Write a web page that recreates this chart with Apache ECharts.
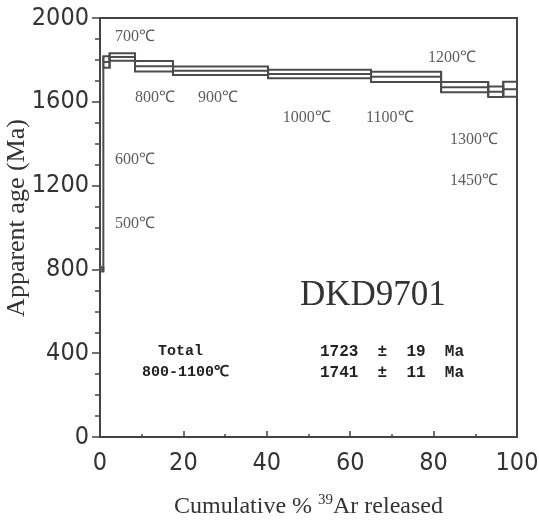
<!DOCTYPE html>
<html>
<head>
<meta charset="utf-8">
<script src="https://cdn.jsdelivr.net/npm/echarts@6/dist/echarts.min.js"></script>
<style>
html,body{margin:0;padding:0;background:#fff;}
#chart{width:539px;height:524px;}
</style>
</head>
<body>
<div id="chart"></div>
<script>
// ---- data ----
const temps = ['500℃','600℃','700℃','800℃','900℃','1000℃','1100℃','1200℃','1300℃','1450℃'];
const pctStart = [0, 0.8, 2.3, 8.4, 17.5, 40.3, 65.0, 81.8, 93.1, 96.7];
const pctEnd   = [0.8, 2.3, 8.4, 17.5, 40.3, 65.0, 81.8, 93.1, 96.7, 100];
const ages     = [800, 1790, 1814, 1770, 1748, 1733, 1719, 1670, 1648, 1660];
const errs     = [10, 28, 18, 25, 20, 20, 24, 24, 25, 36];
const xTicks = [0, 20, 40, 60, 80, 100];
const yTicks = [0, 400, 800, 1200, 1600, 2000];
const yTitle = 'Apparent age (Ma)';
const sampleName = 'DKD9701';
const summaryLabels = ['Total', '800-1100℃'];
const summaryAges = [1723, 1741];
const summaryErrs = [19, 11];

// label anchor positions (layout, data coords)
const labelAnchors = [[8.4,1020],[8.4,1322],[8.4,1910],[13.2,1618],[28.3,1618],[49.6,1523],[69.5,1523],[84.4,1809],[89.7,1418],[89.7,1222]];

const stepData = temps.map((t, i) => {
  const pl = i > 0 ? ages[i-1] - errs[i-1] : ages[i] - errs[i];
  const ph = i > 0 ? ages[i-1] + errs[i-1] : ages[i] + errs[i];
  return [pctStart[i], pctEnd[i], ages[i], errs[i], pl, ph];
});

const lineColor = '#444';
const chart = echarts.init(document.getElementById('chart'));
const narrow = "'Liberation Sans Narrow','DejaVu Sans Condensed','Liberation Sans',sans-serif";

chart.setOption({
  animation: false,
  backgroundColor: '#fff',
  grid: {left: 100, right: 22, top: 18, bottom: 87, containLabel: false, outerBoundsMode: 'none',
    show: true, borderColor: lineColor, borderWidth: 2},
  xAxis: {
    type: 'value', min: 0, max: 100, interval: 20,
    axisLine: {onZero: false, lineStyle: {color: lineColor, width: 2}},
    axisTick: {inside: true, length: 6, lineStyle: {color: lineColor, width: 1.5}},
    minorTick: {show: true, splitNumber: 2, length: 3, lineStyle: {color: lineColor, width: 1.5}},
    splitLine: {show: false},
    axisLabel: {color: '#333', fontSize: 25, fontFamily: narrow, margin: 14,
      formatter: v => xTicks.includes(v) ? String(v) : ''},
    name: '{b|Cumulative % }{s|39}{b|Ar released}',
    nameLocation: 'middle', nameGap: 56,
    nameTextStyle: {rich: {
      b: {fontFamily: "'Liberation Serif',serif", fontSize: 24, color: '#333', lineHeight: 28},
      s: {fontFamily: "'Liberation Serif',serif", fontSize: 15, color: '#333', verticalAlign: 'top', lineHeight: 28, padding: [0,0,10,0]}
    }}
  },
  yAxis: {
    type: 'value', min: 0, max: 2000, interval: 400,
    axisLine: {onZero: false, lineStyle: {color: lineColor, width: 2}},
    axisTick: {inside: false, length: 8, lineStyle: {color: lineColor, width: 1.5}},
    minorTick: {show: true, splitNumber: 4, length: 5, lineStyle: {color: lineColor, width: 1.5}},
    splitLine: {show: false},
    axisLabel: {color: '#333', fontSize: 25, fontFamily: narrow, margin: 11,
      formatter: v => yTicks.includes(v) ? String(v) : ''}
  },
  series: [
    {
      type: 'custom',
      data: stepData,
      renderItem: (params, api) => {
        const s = api.value(0), e = api.value(1), a = api.value(2), er = api.value(3);
        const pl = api.value(4), ph = api.value(5);
        const tl = api.coord([s, a + er]);
        const br = api.coord([e, a - er]);
        const ml = api.coord([s, a]);
        const mr = api.coord([e, a]);
        const cLo = api.coord([s, Math.min(pl, a - er)]);
        const cHi = api.coord([s, Math.max(ph, a + er)]);
        const st = {stroke: '#4c4c4c', lineWidth: 2, fill: null};
        return {
          type: 'group',
          children: [
            {type: 'rect', shape: {x: tl[0], y: tl[1], width: br[0] - tl[0], height: br[1] - tl[1]}, style: st},
            {type: 'line', shape: {x1: ml[0], y1: ml[1], x2: mr[0], y2: mr[1]}, style: st},
            {type: 'line', shape: {x1: cLo[0], y1: cLo[1], x2: cHi[0], y2: cHi[1]}, style: st}
          ]
        };
      }
    },
    {
      type: 'scatter',
      symbolSize: 0,
      data: labelAnchors.map((p, i) => ({value: p, name: temps[i]})),
      label: {show: true, position: 'inside', formatter: p => p.name,
        fontFamily: "'Liberation Serif',serif", fontSize: 16, color: '#333'}
    }
  ],
  graphic: [
    {type: 'text', x: 17, y: 218, rotation: Math.PI / 2,
      style: {text: yTitle, fontFamily: "'Liberation Serif',serif", fontSize: 26, fill: '#333', align: 'center', verticalAlign: 'middle'}},
    {type: 'text', left: 300, top: 278, style: {text: sampleName, fontFamily: "'Liberation Serif',serif", fontSize: 35, fill: '#333'}},
    {type: 'text', left: 158, top: 344, style: {text: summaryLabels[0], fontFamily: "'Liberation Mono',monospace", fontWeight: 'bold', fontSize: 15, fill: '#222'}},
    {type: 'text', left: 142, top: 365, style: {text: summaryLabels[1], fontFamily: "'Liberation Mono',monospace", fontWeight: 'bold', fontSize: 15, fill: '#222'}},
    {type: 'text', left: 320, top: 344, style: {text: summaryAges[0] + '  ±  ' + summaryErrs[0] + '  Ma', fontFamily: "'Liberation Mono',monospace", fontWeight: 'bold', fontSize: 16, fill: '#222'}},
    {type: 'text', left: 320, top: 365, style: {text: summaryAges[1] + '  ±  ' + summaryErrs[1] + '  Ma', fontFamily: "'Liberation Mono',monospace", fontWeight: 'bold', fontSize: 16, fill: '#222'}}
  ]
});
</script>
</body>
</html>
